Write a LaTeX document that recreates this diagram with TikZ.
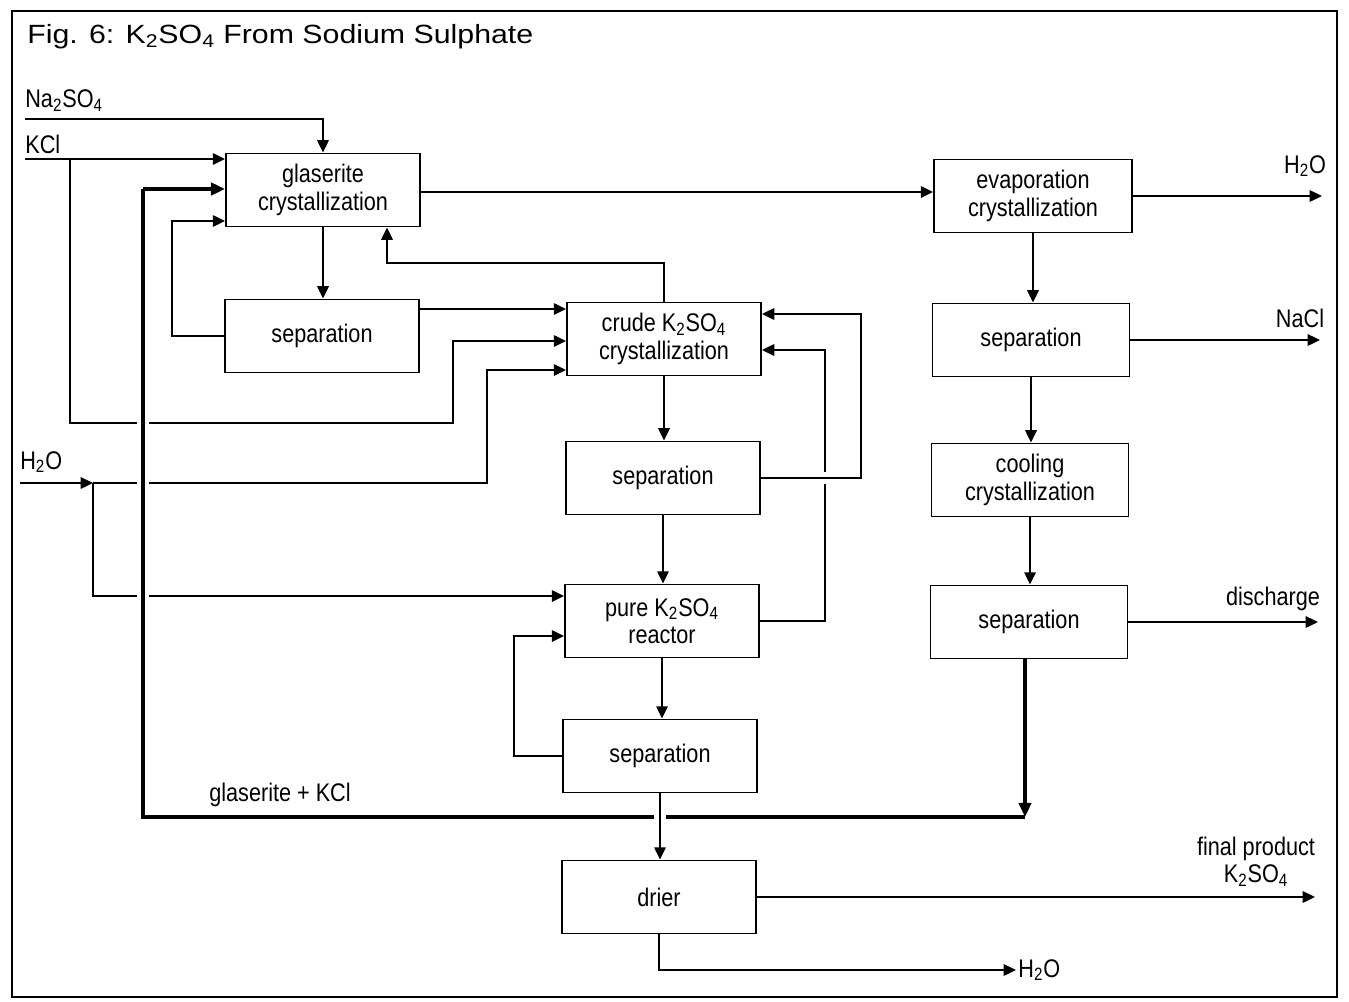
\documentclass[tikz,border=0pt]{standalone}
\usepackage{fontspec}
\setmainfont{Liberation Sans}[FakeStretch=0.85]
\newfontfamily\titlefont{Liberation Sans}[FakeStretch=1.15]
\usetikzlibrary{arrows.meta,backgrounds}
\begin{document}
\begin{tikzpicture}[x=0.02cm,y=-0.02cm,
  box/.style={draw,line width=1.1pt,fill=white,minimum width=3.88cm,minimum height=1.46cm,inner sep=0pt,align=center,font=\fontsize{14.5}{15.5}\selectfont},
  lbl/.style={inner sep=0pt,font=\fontsize{14.5}{15.5}\selectfont},
  flow/.style={line width=1.1pt,-{Triangle[length=7pt,width=6.5pt]}},
  heavy/.style={line width=2.6pt},
  heavyflow/.style={line width=2.6pt,-{Triangle[length=8pt,width=7pt]}},
  gap/.style={preaction={draw=white,line width=6.5pt,-}}
]
\useasboundingbox (0,0) rectangle (1349,1001);
\draw[line width=0.9pt] (12,11) rectangle (1337,997);
\node[anchor=west,inner sep=0pt,font=\titlefont\fontsize{15}{18}\selectfont] (title) at (27,37) {Fig. 6: K\textsubscript{2}SO\textsubscript{4} From Sodium Sulphate};

% boxes
\node[box] (glas) at (323,190) {glaserite\\crystallization};
\node[box] (sepA) at (322,336) {separation};
\node[box] (crude) at (664,339) {crude K\textsubscript{2}SO\textsubscript{4}\\crystallization};
\node[box] (sepB) at (663,478) {separation};
\node[box] (pure) at (662,621) {pure K\textsubscript{2}SO\textsubscript{4}\\reactor};
\node[box] (sepC) at (660,756) {separation};
\node[box] (drier) at (659,897) {drier};
\node[box,minimum width=3.96cm] (evap) at (1033,196) {evaporation\\crystallization};
\node[box,minimum width=3.94cm] (sepD) at (1031,340) {separation};
\node[box,minimum width=3.94cm] (cool) at (1030,480) {cooling\\crystallization};
\node[box,minimum width=3.94cm] (sepE) at (1029,622) {separation};

% labels
\node[lbl,anchor=west] (lna) at (25,101) {Na\textsubscript{2}SO\textsubscript{4}};
\node[lbl,anchor=west] (lkcl) at (25,144) {KCl};
\node[lbl,anchor=west] (lh) at (20,462) {H\textsubscript{2}O};
\node[lbl] (lh2) at (1305,166) {H\textsubscript{2}O};
\node[lbl] (lnacl) at (1300,318) {NaCl};
\node[lbl] (ldis) at (1273,599) {discharge};
\node[lbl,align=center] (lfin) at (1256,862) {final product\\K\textsubscript{2}SO\textsubscript{4}};
\node[lbl] (lglk) at (280,795) {glaserite + KCl};
\node[lbl,anchor=west] (lh3) at (1018,970) {H\textsubscript{2}O};

% coordinates
\coordinate (na) at (25,119);
\coordinate (kcl) at (25,159);
\coordinate (kb1) at (70,159);
\coordinate (kb2) at (70,423);
\coordinate (kb3) at (453,423);
\coordinate (kb4) at (453,341);
\coordinate (hin) at (20,483);
\coordinate (hj) at (93,483);
\coordinate (hr1) at (487,483);
\coordinate (hr2) at (487,370);
\coordinate (hd) at (93,596);
\coordinate (ra1) at (172,336);
\coordinate (ra2) at (172,221);
\coordinate (sa) at (418,309);
\coordinate (cg1) at (664,263);
\coordinate (cg2) at (387,263);
\coordinate (ge) at (420,192);
\coordinate (eo) at (1322,196);
\coordinate (no) at (1320,340);
\coordinate (do) at (1318,622);
\coordinate (o1) at (861,478);
\coordinate (o2) at (861,314);
\coordinate (i1) at (825,621);
\coordinate (i2) at (825,350);
\coordinate (l1) at (514,756);
\coordinate (l2) at (514,636);
\coordinate (fo) at (1315,897);
\coordinate (d1) at (659,970);
\coordinate (d2) at (1016,970);
\coordinate (tk1) at (143,189);
\coordinate (tk2) at (140,817);
\coordinate (tk3) at (1025,817);

\begin{pgfonlayer}{background}
\draw[flow] (na) -| (glas.north);
\draw[flow] (kcl) -- (kcl -| glas.west);
\draw[flow] (kb1) -- (kb2) -- (kb3) -- (kb4) -- (kb4 -| crude.west);
\draw[flow] (hin) -- (hj);
\draw[flow] (hj) -- (hr1) -- (hr2) -- (hr2 -| crude.west);
\draw[flow] (hj) -- (hd) -- (hd -| pure.west);
\draw[flow] (sepA.west) -- (ra1) -- (ra2) -- (ra2 -| glas.west);
\draw[flow] (glas.south) -- (glas.south |- sepA.north);
\draw[flow] (sa) -- (sa -| crude.west);
\draw[flow] (crude.north) -- (cg1) -- (cg2) -- (cg2 |- glas.south);
\draw[flow] (ge) -- (ge -| evap.west);
\draw[flow] (evap.east) -- (eo);
\draw[flow] (evap.south) -- (evap.south |- sepD.north);
\draw[flow] (sepD.east) -- (no);
\draw[flow] (sepD.south) -- (sepD.south |- cool.north);
\draw[flow] (cool.south) -- (cool.south |- sepE.north);
\draw[flow] (sepE.east) -- (do);
\draw[flow] (crude.south) -- (crude.south |- sepB.north);
\draw[flow] (sepB.south) -- (sepB.south |- pure.north);
\draw[flow] (pure.south) -- (pure.south |- sepC.north);
\draw[flow] (pure.east) -- (i1) -- (i2) -- (i2 -| crude.east);
\draw[flow,gap] (sepB.east) -- (o1) -- (o2) -- (o2 -| crude.east);
\draw[flow] (sepC.west) -- (l1) -- (l2) -- (l2 -| pure.west);
\draw[flow] (drier.east) -- (fo);
\draw[flow] (drier.south) -- (d1) -- (d2);
% heavy recycle
\draw[heavy,gap] (tk3) -- (tk2 -| tk1) -- (tk1);
\draw[heavyflow] (tk1) -- (tk1 -| glas.west);
\draw[heavyflow] (tk3 |- sepE.south) -- (tk3);
\draw[flow,gap] (sepC.south) -- (sepC.south |- drier.north);
\end{pgfonlayer}
\end{tikzpicture}
\end{document}
